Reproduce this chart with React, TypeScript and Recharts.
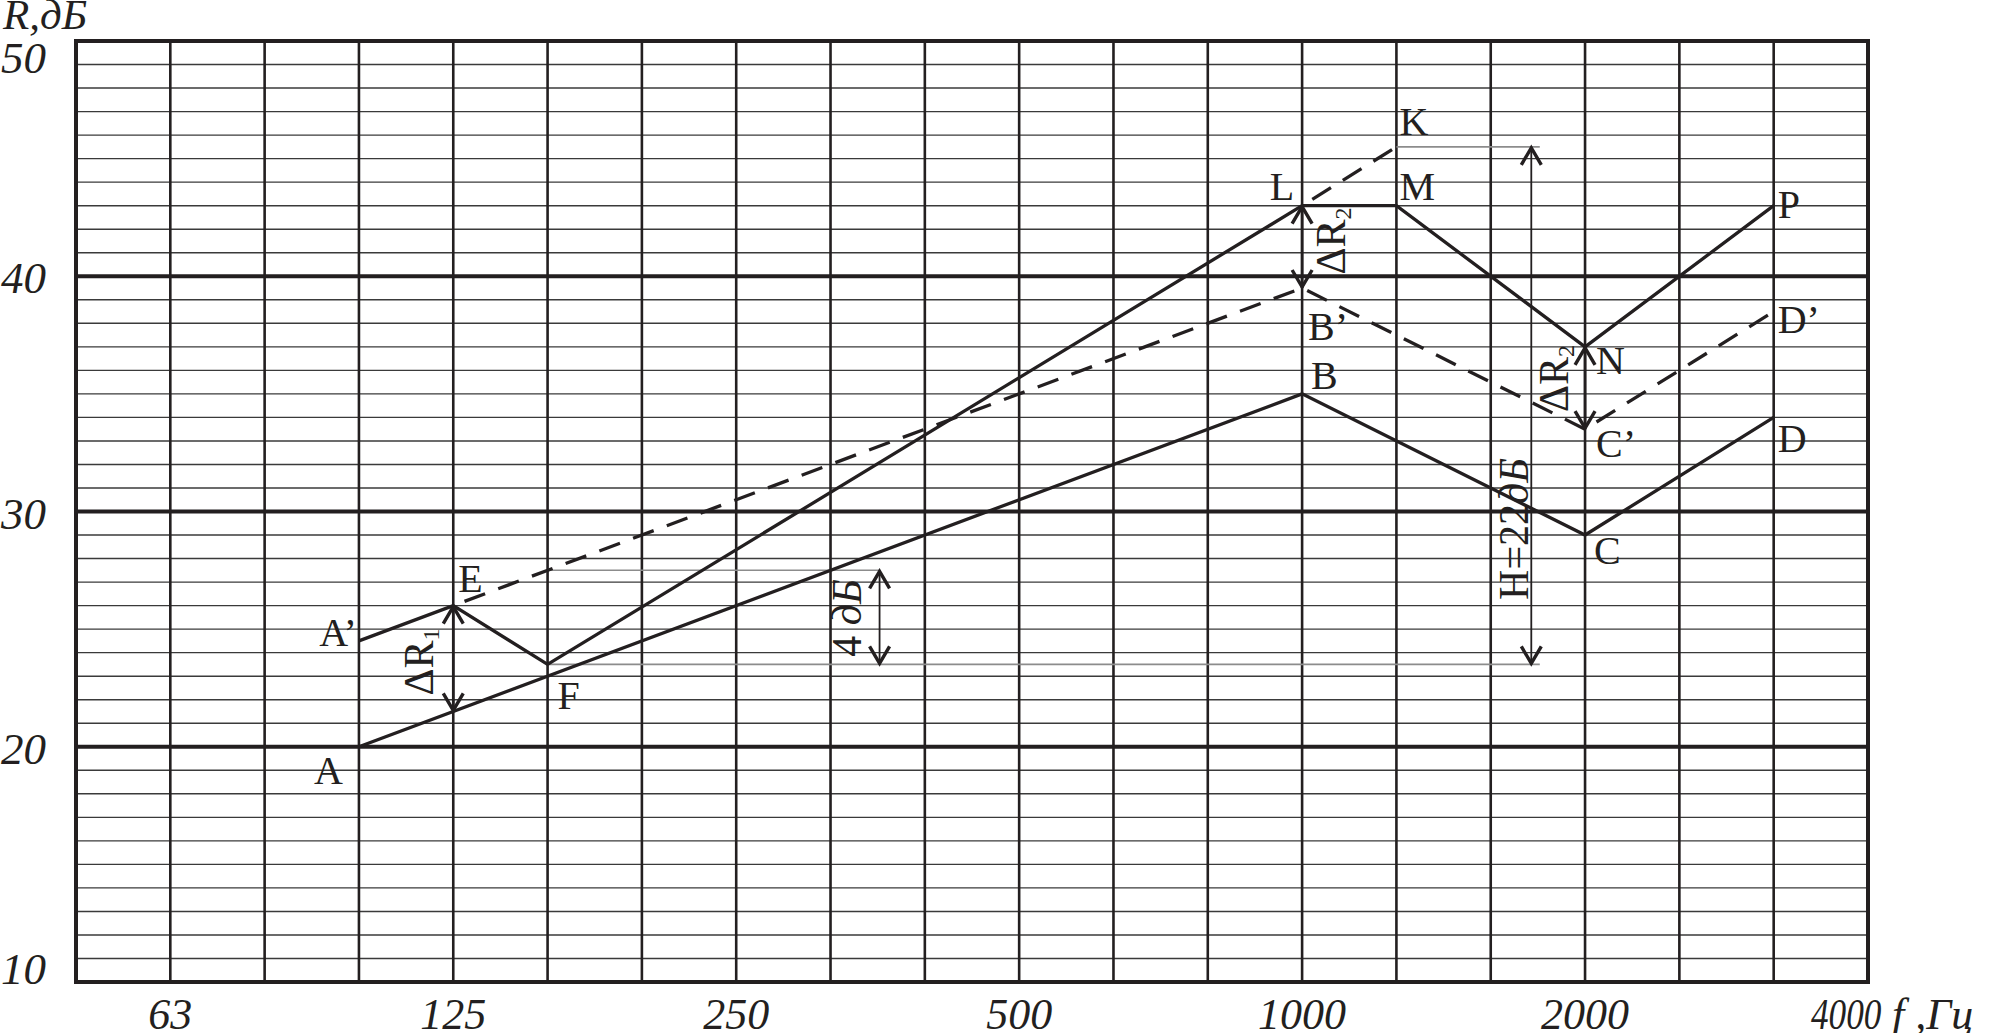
import React from "react";
import {
  LineChart,
  Line,
  XAxis,
  YAxis,
  CartesianGrid,
  ReferenceLine,
  ReferenceArea,
  ReferenceDot,
} from "recharts";

// third-octave bands, 50 Hz .. 4000 Hz
const bands = [50, 63, 80, 100, 125, 160, 200, 250, 315, 400, 500, 630, 800, 1000, 1250, 1600, 2000, 2500, 3150, 4000];
const labelledBands = [63, 125, 250, 500, 1000, 2000];
const rTicks = [
  10, 11, 12, 13, 14, 15, 16, 17, 18, 19, 20, 21, 22, 23, 24, 25, 26, 27, 28, 29, 30,
  31, 32, 33, 34, 35, 36, 37, 38, 39, 40, 41, 42, 43, 44, 45, 46, 47, 48, 49, 50,
];
const rLabels = [10, 20, 30, 40, 50];
const majorR = [20, 30, 40];

// A B C D - normative curve
const normFreq = [100, 1000, 2000, 3150];
const normR = [20, 35, 29, 34];
// A' E F L M N P - measured curve
const measFreq = [100, 125, 160, 1000, 1250, 2000, 3150];
const measR = [24.5, 26, 23.5, 43, 43, 37, 43];
// E B' C' D' - shifted normative curve
const shiftFreq = [125, 1000, 2000, 3150];
const shiftR = [26, 39.5, 33.5, 38.5];
// L K - continuation
const extFreq = [1000, 1250];
const extR = [43, 45.5];

const INK = "#231f20";
const SERIF = "'Liberation Serif', 'Times New Roman', serif";

const idx = (f: number) => bands.indexOf(f);
const toPoints = (fs: number[], rs: number[]) => fs.map((f, i) => ({ x: idx(f), r: rs[i] }));

const letterLabels = [
  { text: "A", f: 100, r: 20, dx: -16, dy: 37, anchor: "end" },
  { text: "A’", f: 100, r: 24.5, dx: -2, dy: 5, anchor: "end" },
  { text: "E", f: 125, r: 26, dx: 5, dy: -14 },
  { text: "F", f: 160, r: 23, dx: 10, dy: 33 },
  { text: "L", f: 1000, r: 43, dx: -8, dy: -6, anchor: "end" },
  { text: "M", f: 1250, r: 43, dx: 3, dy: -6 },
  { text: "K", f: 1250, r: 45.5, dx: 3, dy: -12 },
  { text: "B’", f: 1000, r: 39.5, dx: 6, dy: 52 },
  { text: "B", f: 1000, r: 35, dx: 9, dy: -5 },
  { text: "N", f: 2000, r: 37, dx: 11, dy: 27 },
  { text: "C’", f: 2000, r: 33.5, dx: 11, dy: 28 },
  { text: "C", f: 2000, r: 29, dx: 9, dy: 29 },
  { text: "P", f: 3150, r: 43, dx: 4, dy: 12 },
  { text: "D’", f: 3150, r: 38.5, dx: 4, dy: 21 },
  { text: "D", f: 3150, r: 34, dx: 4, dy: 35 },
];

const rotatedLabels = [
  { main: "ΔR", sub: "1", x: 3.78, r: 23.6 },
  { main: "ΔR", sub: "2", x: 13.46, r: 41.5 },
  { main: "ΔR", sub: "2", x: 15.82, r: 35.65 },
  { main: "4 ", italic: "дБ", x: 8.32, r: 25.47 },
  { main: "H=22", italic: "дБ", x: 15.39, r: 29.26 },
];

const arrows = [
  { x: 4, from: 21.5, to: 26, w: 2.6 },
  { x: 13, from: 39.5, to: 43, w: 2.6 },
  { x: 16, from: 33.5, to: 37, w: 2.6 },
  { x: 8.52, from: 23.5, to: 27.5, w: 1.8 },
  { x: 15.43, from: 23.5, to: 45.5, w: 1.8 },
];

const guides = [
  { r: 45.5, from: 14, to: 15.52 },
  { r: 27.5, from: 5, to: 8.52 },
  { r: 23.5, from: 5, to: 15.52 },
];

const XTick = (props: any) => {
  const { x, y, payload } = props;
  const f = bands[payload.value];
  const style = { fontFamily: SERIF, fontStyle: "italic", fontSize: 44, fill: INK };
  if (f === 4000) {
    return (
      <g>
        <text transform={`translate(${x - 57},${y + 47}) scale(0.8,1)`} style={style}>
          4000
        </text>
        <text x={x + 24} y={y + 47} style={style}>
          f ,Гц
        </text>
      </g>
    );
  }
  if (!labelledBands.includes(f)) return <g />;
  return (
    <text x={x} y={y + 47} textAnchor="middle" style={style}>
      {f}
    </text>
  );
};

const YTick = (props: any) => {
  const { x, y, payload } = props;
  const v = payload.value;
  if (!rLabels.includes(v)) return <g />;
  const dy = v === 50 ? 17 : v === 10 ? -13 : 2;
  return (
    <text
      x={x - 30}
      y={y + dy}
      textAnchor="end"
      dominantBaseline="central"
      style={{ fontFamily: SERIF, fontStyle: "italic", fontSize: 45, fill: INK }}
    >
      {v}
    </text>
  );
};

const arrowShape = (w: number) => (p: any) => {
  const { x1, y1, y2 } = p;
  const top = Math.min(y1, y2);
  const bottom = Math.max(y1, y2);
  return (
    <g>
      <line x1={x1} x2={x1} y1={top} y2={bottom} stroke={INK} strokeWidth={w} />
      <polyline
        points={`${x1 - 10},${top + 18} ${x1},${top + 1} ${x1 + 10},${top + 18}`}
        fill="none"
        stroke={INK}
        strokeWidth={3.4}
      />
      <polyline
        points={`${x1 - 10},${bottom - 18} ${x1},${bottom - 1} ${x1 + 10},${bottom - 18}`}
        fill="none"
        stroke={INK}
        strokeWidth={3.4}
      />
    </g>
  );
};

export default function App() {
  return (
    <div style={{ width: 1992, height: 1033, background: "#fff" }}>
      <style>{"body{margin:0}"}</style>
      <LineChart width={1992} height={1033} margin={{ top: 41, right: 124, left: 0, bottom: 0 }}>
        <CartesianGrid
          horizontal={(p: any) => (
            <line key={p.key} x1={p.x1} x2={p.x2} y1={p.y1} y2={p.y2} stroke="#3a3a3a" strokeWidth={1.4} />
          )}
          vertical={(p: any) => (
            <line key={p.key} x1={p.x1} x2={p.x2} y1={p.y1} y2={p.y2} stroke={INK} strokeWidth={2.6} />
          )}
        />
        <XAxis
          type="number"
          dataKey="x"
          domain={[0, 19]}
          ticks={bands.map((_, i) => i)}
          interval={0}
          height={51}
          tickLine={false}
          axisLine={false}
          tickSize={0}
          tickMargin={0}
          tick={<XTick />}
        />
        <YAxis
          type="number"
          dataKey="r"
          domain={[10, 50]}
          ticks={rTicks}
          interval={0}
          width={76}
          tickLine={false}
          axisLine={false}
          tickSize={0}
          tickMargin={0}
          tick={<YTick />}
          label={() => (
            <text
              x={3}
              y={29}
              style={{ fontFamily: SERIF, fontStyle: "italic", fontSize: 43, fill: INK }}
            >
              R,дБ
            </text>
          )}
        />
        {majorR.map((r) => (
          <ReferenceLine key={"m" + r} y={r} stroke={INK} strokeWidth={4} />
        ))}
        {guides.map((g, i) => (
          <ReferenceLine
            key={"g" + i}
            segment={[
              { x: g.from, y: g.r },
              { x: g.to, y: g.r },
            ]}
            stroke="#8c8c8c"
            strokeWidth={1.6}
          />
        ))}
        <ReferenceArea x1={0} x2={19} y1={10} y2={50} fill="none" stroke={INK} strokeWidth={4} />

        <Line
          data={toPoints(normFreq, normR)}
          dataKey="r"
          stroke={INK}
          strokeWidth={3.3}
          dot={false}
          activeDot={false}
          isAnimationActive={false}
        />
        <Line
          data={toPoints(measFreq, measR)}
          dataKey="r"
          stroke={INK}
          strokeWidth={3.3}
          dot={false}
          activeDot={false}
          isAnimationActive={false}
        />
        <Line
          data={toPoints(shiftFreq, shiftR)}
          dataKey="r"
          stroke={INK}
          strokeWidth={3.3}
          strokeDasharray="22 14"
          strokeDashoffset={24}
          dot={false}
          activeDot={false}
          isAnimationActive={false}
        />
        <Line
          data={toPoints(extFreq, extR)}
          dataKey="r"
          stroke={INK}
          strokeWidth={3.3}
          strokeDasharray="22 14"
          strokeDashoffset={24}
          dot={false}
          activeDot={false}
          isAnimationActive={false}
        />

        {arrows.map((a, i) => (
          <ReferenceLine
            key={"a" + i}
            segment={[
              { x: a.x, y: a.from },
              { x: a.x, y: a.to },
            ]}
            shape={arrowShape(a.w)}
          />
        ))}

        {letterLabels.map((l, i) => (
          <ReferenceDot
            key={"l" + i}
            x={idx(l.f)}
            y={l.r}
            r={0}
            shape={(p: any) => (
              <text
                x={p.cx + l.dx}
                y={p.cy + l.dy}
                textAnchor={l.anchor || "start"}
                style={{ fontFamily: SERIF, fontSize: 40, fill: INK }}
              >
                {l.text}
              </text>
            )}
          />
        ))}

        {rotatedLabels.map((l, i) => (
          <ReferenceDot
            key={"t" + i}
            x={l.x}
            y={l.r}
            r={0}
            shape={(p: any) => (
              <text
                x={p.cx}
                y={p.cy}
                textAnchor="middle"
                transform={`rotate(-90 ${p.cx} ${p.cy})`}
                style={{ fontFamily: SERIF, fontSize: 42, fill: INK }}
              >
                {l.main}
                {l.sub && (
                  <tspan fontSize={24} dy={6}>
                    {l.sub}
                  </tspan>
                )}
                {l.italic && <tspan fontStyle="italic">{l.italic}</tspan>}
              </text>
            )}
          />
        ))}
      </LineChart>
    </div>
  );
}
